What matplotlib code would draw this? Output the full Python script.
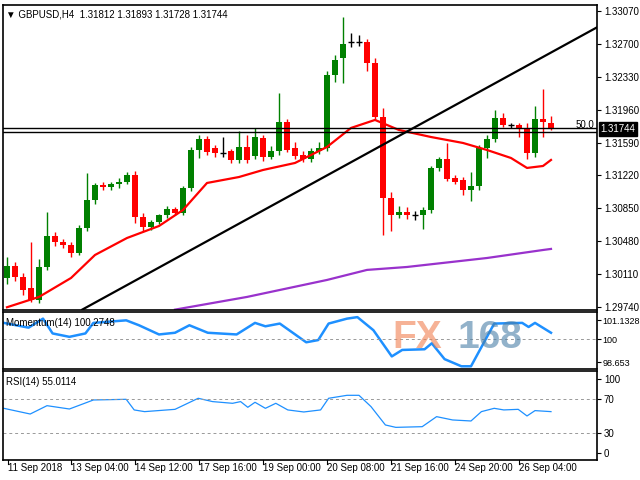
import matplotlib
matplotlib.use("Agg")
import matplotlib.pyplot as plt
import numpy as np

# GBPUSD H4 candles (open, high, low, close)
opens = [1.3007, 1.3020, 1.3008, 1.2995, 1.2982, 1.3019, 1.3054, 1.3047, 1.3044, 1.3035,
         1.3063, 1.3094, 1.3111, 1.3109, 1.3112, 1.3115, 1.3122, 1.3075, 1.3064, 1.3070,
         1.3077, 1.3084, 1.3080, 1.3108, 1.3151, 1.3163, 1.3153, 1.3147, 1.3149, 1.3139,
         1.3154, 1.3144, 1.3164, 1.3143, 1.3149, 1.3182, 1.3153, 1.3145, 1.3140, 1.3149,
         1.3153, 1.3235, 1.3254, 1.3272, 1.3272, 1.3272, 1.3248, 1.3188, 1.3097, 1.3078,
         1.3081, 1.3078, 1.3078, 1.3083, 1.3130, 1.3140, 1.3119, 1.3117, 1.3106, 1.3110,
         1.3153, 1.3163, 1.3187, 1.3179, 1.3179, 1.3175, 1.3147, 1.3186, 1.31812]
highs = [1.3030, 1.3025, 1.3012, 1.3047, 1.3028, 1.3081, 1.3058, 1.3050, 1.3047, 1.3066,
         1.3125, 1.3114, 1.3115, 1.3115, 1.3119, 1.3126, 1.3127, 1.3080, 1.3072, 1.3079,
         1.3088, 1.3087, 1.3110, 1.3154, 1.3167, 1.3166, 1.3156, 1.3165, 1.3152, 1.3172,
         1.3168, 1.3175, 1.3168, 1.3155, 1.3215, 1.3186, 1.3160, 1.3150, 1.3153, 1.3160,
         1.3240, 1.3258, 1.3300, 1.3282, 1.3280, 1.3276, 1.3254, 1.3198, 1.3103, 1.3088,
         1.3086, 1.3082, 1.3086, 1.3133, 1.3143, 1.3158, 1.3123, 1.3120, 1.3126, 1.3156,
         1.3167, 1.3196, 1.3192, 1.3181, 1.3181, 1.3181, 1.3200, 1.3219, 1.31893]
lows = [1.3000, 1.3003, 1.2988, 1.2980, 1.2978, 1.3016, 1.3043, 1.3040, 1.3030, 1.3032,
        1.3060, 1.3090, 1.3106, 1.3106, 1.3108, 1.3112, 1.3068, 1.3060, 1.3061, 1.3067,
        1.3074, 1.3077, 1.3077, 1.3104, 1.3142, 1.3145, 1.3143, 1.3143, 1.3136, 1.3136,
        1.3136, 1.3140, 1.3138, 1.3140, 1.3145, 1.3148, 1.3140, 1.3137, 1.3137, 1.3146,
        1.3150, 1.3227, 1.3226, 1.3267, 1.3268, 1.3240, 1.3184, 1.3055, 1.3059, 1.3074,
        1.3073, 1.3072, 1.3062, 1.3080, 1.3127, 1.3116, 1.3112, 1.3100, 1.3093, 1.3106,
        1.3142, 1.3160, 1.3176, 1.3175, 1.3165, 1.3140, 1.3143, 1.3165, 1.31728]
closes = [1.3020, 1.3008, 1.2993, 1.2982, 1.3019, 1.3054, 1.3047, 1.3044, 1.3035, 1.3063,
          1.3094, 1.3111, 1.3109, 1.3112, 1.3115, 1.3122, 1.3075, 1.3064, 1.3070, 1.3077,
          1.3084, 1.3080, 1.3108, 1.3151, 1.3163, 1.3148, 1.3147, 1.3147, 1.3139, 1.3154,
          1.3139, 1.3165, 1.3143, 1.3149, 1.3182, 1.3151, 1.3144, 1.3140, 1.3149, 1.3153,
          1.3235, 1.3252, 1.3270, 1.3272, 1.3272, 1.3248, 1.3188, 1.3097, 1.3078, 1.3081,
          1.3077, 1.3078, 1.3083, 1.3130, 1.3140, 1.3118, 1.3115, 1.3106, 1.3110, 1.3153,
          1.3163, 1.3187, 1.3179, 1.3179, 1.3174, 1.3147, 1.3186, 1.3182, 1.31744]

# moving averages (sampled at candle index)
ma_fast_idx = [0, 4, 8, 11, 15, 19, 22, 25, 29, 32, 36, 40, 43, 46, 49, 53, 57, 60, 63, 65, 67, 68]
ma_fast = [1.29737, 1.29853, 1.30066, 1.30325, 1.30516, 1.30651, 1.30831, 1.31135, 1.31202, 1.31281,
           1.31360, 1.31540, 1.31754, 1.31844, 1.31731, 1.31652, 1.31585, 1.31506, 1.31416, 1.31304,
           1.31326, 1.31394]
ma_slow_idx = [21, 30, 40, 45, 50, 60, 67, 68]
ma_slow = [1.29710, 1.29853, 1.30044, 1.30157, 1.30190, 1.30291, 1.30381, 1.30393]
trend_idx = [9.4, 74.3]
trend_px = [1.29710, 1.32913]
hlines = [1.31754, 1.31709]

price_ticks = [1.33070, 1.32700, 1.32330, 1.31960, 1.31590, 1.31220, 1.30850, 1.30480, 1.30110, 1.29740]

mom_idx = [-0.4, 2.7, 4.5, 5.7, 7.8, 9.8, 10.8, 14.9, 16.5, 19, 21, 22.8, 25.1, 28.7, 31, 32.3, 34.1,
           37.4, 38.9, 40.2, 42.5, 43.8, 45.8, 48.1, 49.4, 52.2, 53.1, 54.7, 56.8, 58, 60.9, 64.4,
           65.2, 66, 68]
mom = [100.97, 100.69, 101.22, 100.35, 100.15, 100.35, 100.97, 101.12, 100.83, 100.29, 100.39,
       100.83, 100.39, 100.29, 100.97, 100.77, 100.93, 99.83, 99.96, 100.93, 101.22, 101.31, 100.54,
       99.00, 99.38, 99.42, 99.77, 98.84, 98.42, 98.42, 100.93, 100.97, 100.73, 100.97, 100.39]

rsi_idx = [-0.4, 2.9, 5, 7.8, 10.8, 14.9, 15.9, 17.2, 21, 23.9, 25.7, 28.2, 29.2, 30.1, 31, 32.3,
           33.6, 35.1, 37.1, 39.2, 40.2, 42.5, 44, 45.5, 47.3, 48.6, 51.9, 53.7, 55.7, 58, 59.3,
           60.9, 62.1, 63.9, 65, 66, 68]
rsi = [59.4, 52.7, 62.5, 58.6, 69.2, 70.0, 57.5, 55.5, 58.2, 71.2, 67.3, 65.3, 67.3, 60.6, 66.5,
       59.4, 65.3, 57.5, 55.1, 57.5, 71.2, 74.7, 74.7, 61.4, 39.8, 37.0, 37.8, 49.6, 45.7, 44.5,
       55.5, 59.4, 57.5, 58.2, 50.4, 56.7, 55.5]

date_idx = [0.1, 8, 16, 24, 32, 40, 48, 56, 64]
date_labels = ["11 Sep 2018", "13 Sep 04:00", "14 Sep 12:00", "17 Sep 16:00", "19 Sep 00:00",
               "20 Sep 08:00", "21 Sep 16:00", "24 Sep 20:00", "26 Sep 04:00"]

W, H = 640, 480
plt.rcParams['font.family'] = ['Liberation Sans', 'DejaVu Sans']
fig = plt.figure(figsize=(6.4, 4.8), dpi=100)
FS = 7

def box(x0, y0, x1, y1):
    return [x0 / W, 1 - y1 / H, (x1 - x0) / W, (y1 - y0) / H]

xmin, xmax = -0.5, (597 - 3) / 8 - 0.5

ax = fig.add_axes(box(3, 5, 597, 310))
ax2 = fig.add_axes(box(3, 312, 597, 369))
ax3 = fig.add_axes(box(3, 371, 597, 460))

for a in (ax, ax2, ax3):
    a.set_xlim(xmin, xmax)
    a.yaxis.tick_right()
    a.tick_params(axis='y', labelsize=FS, length=3, pad=2)
    a.tick_params(axis='x', length=0)
    for s in a.spines.values():
        s.set_linewidth(1.2)
    a.set_xticks([])

# candles
for i in range(len(opens)):
    o, h, l, c = opens[i], highs[i], lows[i], closes[i]
    if c > o:
        col = '#008000'
    elif c < o:
        col = '#ff0000'
    else:
        col = 'black'
    ax.vlines(i, l, h, color=col, lw=1)
    bh = abs(c - o)
    if bh < 0.00004:
        ax.hlines(o, i - 0.35, i + 0.35, color=col, lw=1)
    else:
        ax.bar(i, bh, bottom=min(o, c), width=0.65, color=col, linewidth=0)

ax.plot(ma_fast_idx, ma_fast, color='#ff0000', lw=1.6)
ax.plot(ma_slow_idx, ma_slow, color='#9932cc', lw=1.6)
ax.plot(trend_idx, trend_px, color='black', lw=1.6)
for hv in hlines:
    ax.axhline(hv, color='black', lw=1)

ax.set_ylim(1.29706, 1.33137)
ax.set_yticks(price_ticks)
ax.set_yticklabels([f"{v:.5f}" for v in price_ticks])
ax.text(0.995, 1.31790, "50.0", transform=ax.get_yaxis_transform(), ha='right', va='center',
        fontsize=FS)
ax.text(1.006, 1.31744, "1.31744", transform=ax.get_yaxis_transform(), ha='left', va='center',
        fontsize=FS, color='white', bbox=dict(boxstyle='square,pad=0.2', fc='black', ec='black'),
        zorder=10, clip_on=False)
ax.text(0.005, 0.985, "\u25BC GBPUSD,H4  1.31812 1.31893 1.31728 1.31744", transform=ax.transAxes,
        ha='left', va='top', fontsize=FS)

# momentum
ax2.plot(mom_idx, mom, color='#1e90ff', lw=1.8)
ax2.axhline(100, color='#999999', lw=0.7, ls=(0, (3, 3)))
ax2.set_ylim(98.26, 101.61)
ax2.set_yticks([101.1328, 100, 98.653])
ax2.set_yticklabels(["101.1328", "100", "98.653"])
ax2.tick_params(axis='y', labelsize=6.5, pad=1)
ax2.text(0.005, 0.9, "Momentum(14) 100.2748", transform=ax2.transAxes, ha='left', va='top', fontsize=FS)
ax2.text(0.655, 0.55, "FX", transform=ax2.transAxes, fontsize=28, fontweight='bold',
         color='#f08050', alpha=0.6, ha='left', va='center')
ax2.text(0.765, 0.55, "168", transform=ax2.transAxes, fontsize=28, fontweight='bold',
         color='#4a7fa8', alpha=0.6, ha='left', va='center')

# rsi
ax3.plot(rsi_idx, rsi, color='#1e90ff', lw=0.9)
for lv in (70, 30):
    ax3.axhline(lv, color='#999999', lw=0.7, ls=(0, (3, 3)))
ax3.set_ylim(-1.4, 103.3)
ax3.set_yticks([93.5, 70, 30, 7.3])
ax3.set_yticklabels(["100", "70", "30", "0"])
ax3.text(0.005, 0.93, "RSI(14) 55.0114", transform=ax3.transAxes, ha='left', va='top', fontsize=FS)

for xi, lab in zip(date_idx, date_labels):
    ax3.text(xi, -0.03, lab, transform=ax3.get_xaxis_transform(), ha='left', va='top', fontsize=FS)
    ax3.plot([xi, xi], [-0.04, 0], transform=ax3.get_xaxis_transform(), color='black', lw=0.8,
             clip_on=False)

fig.savefig("out.png", dpi=100)
